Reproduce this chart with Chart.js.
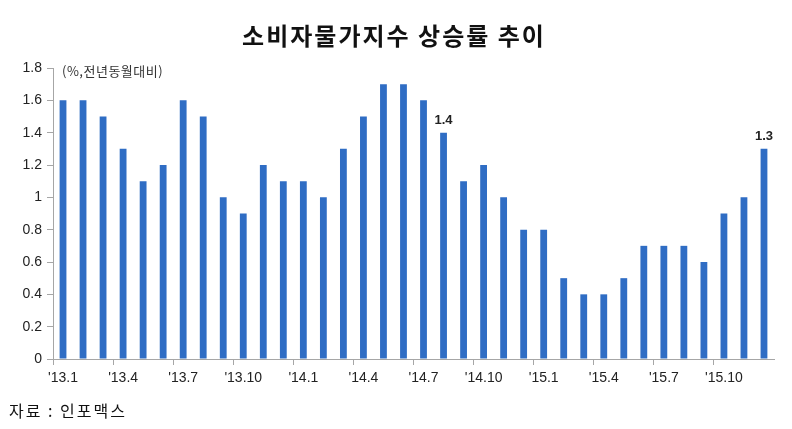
<!DOCTYPE html>
<html>
<head>
<meta charset="utf-8">
<script src="https://cdn.jsdelivr.net/npm/chart.js@4/dist/chart.umd.min.js"></script>
<style>
  html, body { margin:0; padding:0; background:#fff; }
  #wrap { width:792px; height:429px; position:relative; }
</style>
</head>
<body>
<div id="wrap"><canvas id="cpi"></canvas></div>
<script>
// monthly CPI y/y change, Jan 2013 - Dec 2015
const months = [
  "'13.1","'13.2","'13.3","'13.4","'13.5","'13.6","'13.7","'13.8","'13.9","'13.10","'13.11","'13.12",
  "'14.1","'14.2","'14.3","'14.4","'14.5","'14.6","'14.7","'14.8","'14.9","'14.10","'14.11","'14.12",
  "'15.1","'15.2","'15.3","'15.4","'15.5","'15.6","'15.7","'15.8","'15.9","'15.10","'15.11","'15.12"
];
const cpiChange = [
  1.6,1.6,1.5,1.3,1.1,1.2,1.6,1.5,1.0,0.9,1.2,1.1,
  1.1,1.0,1.3,1.5,1.7,1.7,1.6,1.4,1.1,1.2,1.0,0.8,
  0.8,0.5,0.4,0.4,0.5,0.7,0.7,0.7,0.6,0.9,1.0,1.3
];
const labelled = ["'14.8","'15.12"];
const yTicks = [0,0.2,0.4,0.6,0.8,1,1.2,1.4,1.6,1.8];

const titleText = "소비자물가지수 상승률 추이";
const unitText = "(%,전년동월대비)";
const sourceText = "자료 : 인포맥스";

const KR = "'Noto Sans CJK KR', 'Noto Sans', sans-serif";
const NUM = "'Liberation Sans', 'DejaVu Sans', sans-serif";

const extras = {
  id: "extras",
  afterDraw(chart) {
    const ctx = chart.ctx, area = chart.chartArea;
    const meta = chart.getDatasetMeta(0);
    ctx.save();
    ctx.fillStyle = "#111";
    ctx.textAlign = "center";
    ctx.textBaseline = "middle";
    ctx.font = "bold 24px " + KR;
    ctx.letterSpacing = "2px";
    ctx.fillText(titleText, 394, 36);

    ctx.textAlign = "left";
    ctx.letterSpacing = "0.5px";
    ctx.font = "13px " + KR;
    ctx.fillStyle = "#333";
    ctx.fillText(unitText, area.left + 9, 71);

    ctx.letterSpacing = "2px";
    ctx.font = "16px " + KR;
    ctx.fillStyle = "#111";
    ctx.fillText(sourceText, 9, 411);

    ctx.letterSpacing = "0px";
    ctx.textAlign = "center";
    ctx.textBaseline = "bottom";
    ctx.font = "bold 13px " + NUM;
    ctx.fillStyle = "#222";
    months.forEach((m, i) => {
      if (!labelled.includes(m)) return;
      const bar = meta.data[i];
      ctx.fillText(cpiChange[i].toFixed(1), bar.x, bar.y - 6);
    });
    ctx.restore();
  }
};

new Chart(document.getElementById("cpi").getContext("2d"), {
  type: "bar",
  data: {
    labels: months,
    datasets: [{
      data: cpiChange,
      backgroundColor: "#2f6dc4",
      barPercentage: 0.34,
      categoryPercentage: 1
    }]
  },
  options: {
    responsive: true,
    maintainAspectRatio: false,
    animation: false,
    layout: { padding: { top: 68, right: 18, left: 0, bottom: 0 } },
    plugins: { legend: { display: false }, tooltip: { enabled: false }, title: { display: false } },
    scales: {
      x: {
        offset: true,
        afterFit: s => { s.height = 70; },
        border: { display: true, color: "#a6a6a6" },
        grid: {
          offset: true,
          drawOnChartArea: false,
          tickLength: 6,
          color: c => (c.index % 3 === 0 || c.index === months.length) ? "#a6a6a6" : "rgba(0,0,0,0)"
        },
        ticks: {
          autoSkip: false,
          maxRotation: 0,
          padding: 5,
          color: "#222",
          font: { size: 14, family: NUM },
          callback: (v, i) => i % 3 === 0 ? months[i] : ""
        }
      },
      y: {
        min: 0,
        max: 1.8,
        afterFit: s => { s.width = 53; },
        afterBuildTicks: s => { s.ticks = yTicks.map(v => ({ value: v })); },
        border: { display: true, color: "#a6a6a6" },
        grid: { drawOnChartArea: false, tickLength: 6, color: "#a6a6a6" },
        ticks: {
          padding: 5,
          color: "#222",
          font: { size: 14, family: NUM },
          callback: v => String(Math.round(v * 10) / 10)
        }
      }
    }
  },
  plugins: [extras]
});
</script>
</body>
</html>
